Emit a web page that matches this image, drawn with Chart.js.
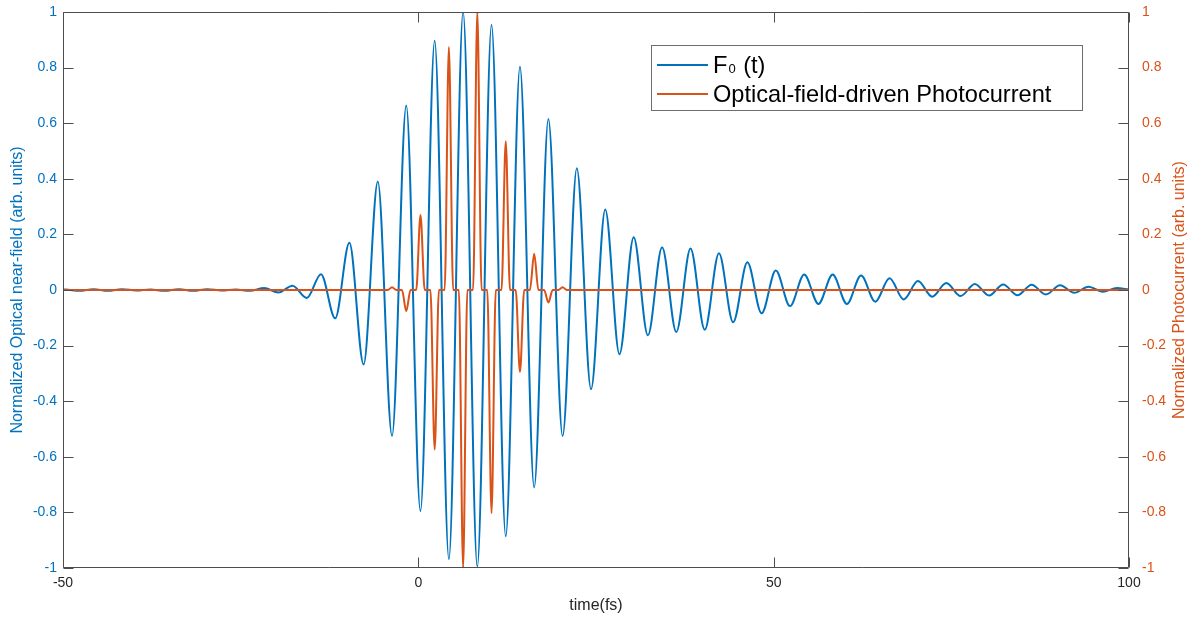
<!DOCTYPE html>
<html>
<head>
<meta charset="utf-8">
<title>Optical near-field and photocurrent</title>
<script src="https://cdn.jsdelivr.net/npm/chart.js@4.4.0/dist/chart.umd.min.js"></script>
<style>
  html, body { margin: 0; padding: 0; background: #fff; }
  #chart { display: block; }
</style>
</head>
<body>
<canvas id="chart" width="1197" height="618"></canvas>
<script>
const fieldTimes = [
  -50, -49.7, -47.7, -45.7, -43.7, -41.7, -39.7, -37.7, -35.7, -33.7, -31.7,
  -29.7, -27.7, -25.7, -23.7, -21.7, -19.7, -17.7, -15.7, -13.7, -11.7,
  -9.7, -7.7, -5.7, -3.7, -1.7, 0.3, 2.3, 4.3, 6.3, 8.3,
  10.3, 12.3, 14.3, 16.3, 18.3, 20.3, 22.3, 24.3, 26.3, 28.3,
  30.3, 32.3, 34.3, 36.3, 38.3, 40.3, 42.3, 44.3, 46.3, 48.3,
  50.3, 52.3, 54.3, 56.3, 58.3, 60.3, 62.3, 64.3, 66.3, 68.3,
  70.3, 72.3, 74.3, 76.3, 78.3, 80.3, 82.3, 84.3, 86.3, 88.3,
  90.3, 92.3, 94.3, 96.3, 98.3, 100
];
const fieldValues = [
  0, 0.002, -0.003, 0.003, -0.003, 0.003, -0.002, 0.002, -0.003, 0.003, -0.003,
  0.003, -0.002, 0.002, -0.003, 0.007, -0.009, 0.015, -0.029, 0.057, -0.102,
  0.17, -0.268, 0.39, -0.525, 0.664, -0.795, 0.897, -0.968, 1.0, -0.995,
  0.953, -0.886, 0.803, -0.71, 0.615, -0.525, 0.438, -0.357, 0.29, -0.231,
  0.19, -0.163, 0.154, -0.151, 0.149, -0.143, 0.132, -0.116, 0.10, -0.084,
  0.07, -0.058, 0.056, -0.05, 0.056, -0.05, 0.052, -0.042, 0.042, -0.034,
  0.032, -0.024, 0.025, -0.022, 0.022, -0.02, 0.02, -0.019, 0.019, -0.016,
  0.017, -0.01, 0.012, -0.006, 0.007, 0.002
];

// orange trace: each spike as (start, tip, end), flat zero elsewhere
const currentTimes = [
  -50,
  -4.3, -3.7, -3.1,   -2.3, -1.7, -1.1,   -0.3, 0.3, 0.9,
  1.7, 2.3, 2.9,      3.7, 4.3, 4.9,      5.7, 6.3, 6.9,
  7.7, 8.3, 8.9,      9.7, 10.3, 10.9,    11.7, 12.3, 12.9,
  13.7, 14.3, 14.9,   15.7, 16.3, 16.9,   17.7, 18.3, 18.9,
  19.7, 20.3, 20.9,
  100
];
const currentValues = [
  0,
  0, 0.01, 0,     0, -0.076, 0,   0, 0.27, 0,
  0, -0.574, 0,   0, 0.874, 0,    0, -1, 0,
  0, 1, 0,        0, -0.803, 0,   0, 0.535, 0,
  0, -0.295, 0,   0, 0.13, 0,     0, -0.045, 0,
  0, 0.01, 0,
  0
];

const xTicks = [-50, 0, 50, 100];
const yTicks = [-1, -0.8, -0.6, -0.4, -0.2, 0, 0.2, 0.4, 0.6, 0.8, 1];

const blue = '#0072BD';
const orange = '#D95319';
const axisColor = '#4d4d4d';
const fontFamily = '"Liberation Sans", Arial, Helvetica, sans-serif';

const fieldPoints = fieldTimes.map((t, i) => ({ x: t, y: fieldValues[i] }));
const currentPoints = currentTimes.map((t, i) => ({ x: t, y: currentValues[i] }));

const fmt = v => String(Math.round(v * 10) / 10);

// box round the plot plus inward tick marks, like the original
const frame = {
  id: 'frame',
  afterDatasetsDraw(chart) {
    const { ctx, chartArea: a, scales } = chart;
    const len = 10;
    ctx.save();
    ctx.strokeStyle = axisColor;
    ctx.lineWidth = 1;
    ctx.beginPath();
    const L = Math.round(a.left) + 0.5, R = Math.round(a.right) - 0.5;
    const T = Math.round(a.top) + 0.5, B = Math.round(a.bottom) - 0.5;
    ctx.rect(L, T, R - L, B - T);
    xTicks.forEach(v => {
      const px = Math.round(scales.x.getPixelForValue(v)) + 0.5;
      ctx.moveTo(px, B); ctx.lineTo(px, B - len);
      ctx.moveTo(px, T); ctx.lineTo(px, T + len);
    });
    yTicks.forEach(v => {
      const py = Math.round(scales.y.getPixelForValue(v)) + 0.5;
      ctx.moveTo(L, py); ctx.lineTo(L + len, py);
      const py2 = Math.round(scales.y2.getPixelForValue(v)) + 0.5;
      ctx.moveTo(R, py2); ctx.lineTo(R - len, py2);
    });
    ctx.stroke();
    ctx.restore();
  },
  afterDraw(chart) {
    const { ctx, chartArea: a } = chart;
    ctx.save();
    // right axis title, reading upwards like the left one
    ctx.translate(1180, (a.top + a.bottom) / 2);
    ctx.rotate(-Math.PI / 2);
    ctx.fillStyle = orange;
    ctx.font = '16px ' + fontFamily;
    ctx.textAlign = 'center';
    ctx.textBaseline = 'middle';
    ctx.fillText('Normalized Photocurrent (arb. units)', 0, 0);
    ctx.restore();

    // legend box
    ctx.save();
    ctx.fillStyle = '#fff';
    ctx.fillRect(651, 45, 431, 65);
    ctx.strokeStyle = '#6e6e6e';
    ctx.lineWidth = 1;
    ctx.strokeRect(651.5, 45.5, 431, 65);
    const rows = [
      { color: blue, y: 65 },
      { color: orange, y: 94 }
    ];
    rows.forEach(r => {
      ctx.strokeStyle = r.color;
      ctx.lineWidth = 2;
      ctx.beginPath();
      ctx.moveTo(657, r.y); ctx.lineTo(708, r.y);
      ctx.stroke();
    });
    ctx.fillStyle = '#000';
    ctx.textBaseline = 'alphabetic';
    ctx.textAlign = 'left';
    ctx.font = '23.6px ' + fontFamily;
    ctx.fillText('F', 713, 73);
    const fw = ctx.measureText('F').width;
    ctx.font = '13px ' + fontFamily;
    ctx.fillText('0', 713 + fw + 1, 73);
    const sw = ctx.measureText('0').width;
    ctx.font = '23.6px ' + fontFamily;
    ctx.fillText(' (t)', 713 + fw + sw + 2, 73);
    ctx.fillText('Optical-field-driven Photocurrent', 713, 102);
    ctx.restore();
  }
};

// fixed axis boxes so the plot area sits where it does in the original
const fixWidth = w => s => { s.width = w; s.paddingTop = 0; s.paddingBottom = 0; };

const ctx = document.getElementById('chart').getContext('2d');
const chart = new Chart(ctx, {
  type: 'line',
  data: {
    datasets: [
      {
        label: 'F\u2080 (t)',
        data: fieldPoints,
        yAxisID: 'y',
        borderColor: blue,
        borderWidth: 2,
        pointRadius: 0,
        cubicInterpolationMode: 'monotone',
        order: 1
      },
      {
        label: 'Optical-field-driven Photocurrent',
        data: currentPoints,
        yAxisID: 'y2',
        borderColor: orange,
        borderWidth: 2,
        pointRadius: 0,
        cubicInterpolationMode: 'monotone',
        order: 0
      }
    ]
  },
  options: {
    responsive: false,
    animation: false,
    devicePixelRatio: 1,
    layout: { padding: { top: 12, left: 0, right: 0, bottom: 0 } },
    plugins: {
      legend: { display: false },
      tooltip: { enabled: false }
    },
    scales: {
      x: {
        type: 'linear',
        min: -50,
        max: 100,
        afterBuildTicks: s => { s.ticks = xTicks.map(v => ({ value: v })); },
        afterFit: s => { s.height = 50; s.paddingLeft = 0; s.paddingRight = 0; },
        grid: { display: false, drawTicks: false },
        border: { display: false },
        ticks: {
          color: '#262626',
          font: { family: fontFamily, size: 14 },
          padding: 7,
          maxRotation: 0,
          autoSkip: false
        },
        title: {
          display: true,
          text: 'time(fs)',
          color: '#262626',
          font: { family: fontFamily, size: 16 },
          padding: { top: 0, bottom: 3 }
        }
      },
      y: {
        position: 'left',
        min: -1,
        max: 1,
        afterBuildTicks: s => { s.ticks = yTicks.map(v => ({ value: v })); },
        afterFit: fixWidth(63),
        grid: { display: false, drawTicks: false },
        border: { display: false },
        ticks: {
          color: blue,
          font: { family: fontFamily, size: 14 },
          padding: 6,
          callback: fmt
        },
        title: {
          display: true,
          text: 'Normalized Optical near-field (arb. units)',
          color: blue,
          font: { family: fontFamily, size: 16 },
          padding: { top: 8, bottom: 0 }
        }
      },
      y2: {
        position: 'right',
        min: -1,
        max: 1,
        afterBuildTicks: s => { s.ticks = yTicks.map(v => ({ value: v })); },
        afterFit: fixWidth(68),
        grid: { display: false, drawTicks: false },
        border: { display: false },
        ticks: {
          color: orange,
          font: { family: fontFamily, size: 14 },
          padding: 13,
          callback: fmt
        }
      }
    }
  },
  plugins: [frame]
});
</script>
</body>
</html>
